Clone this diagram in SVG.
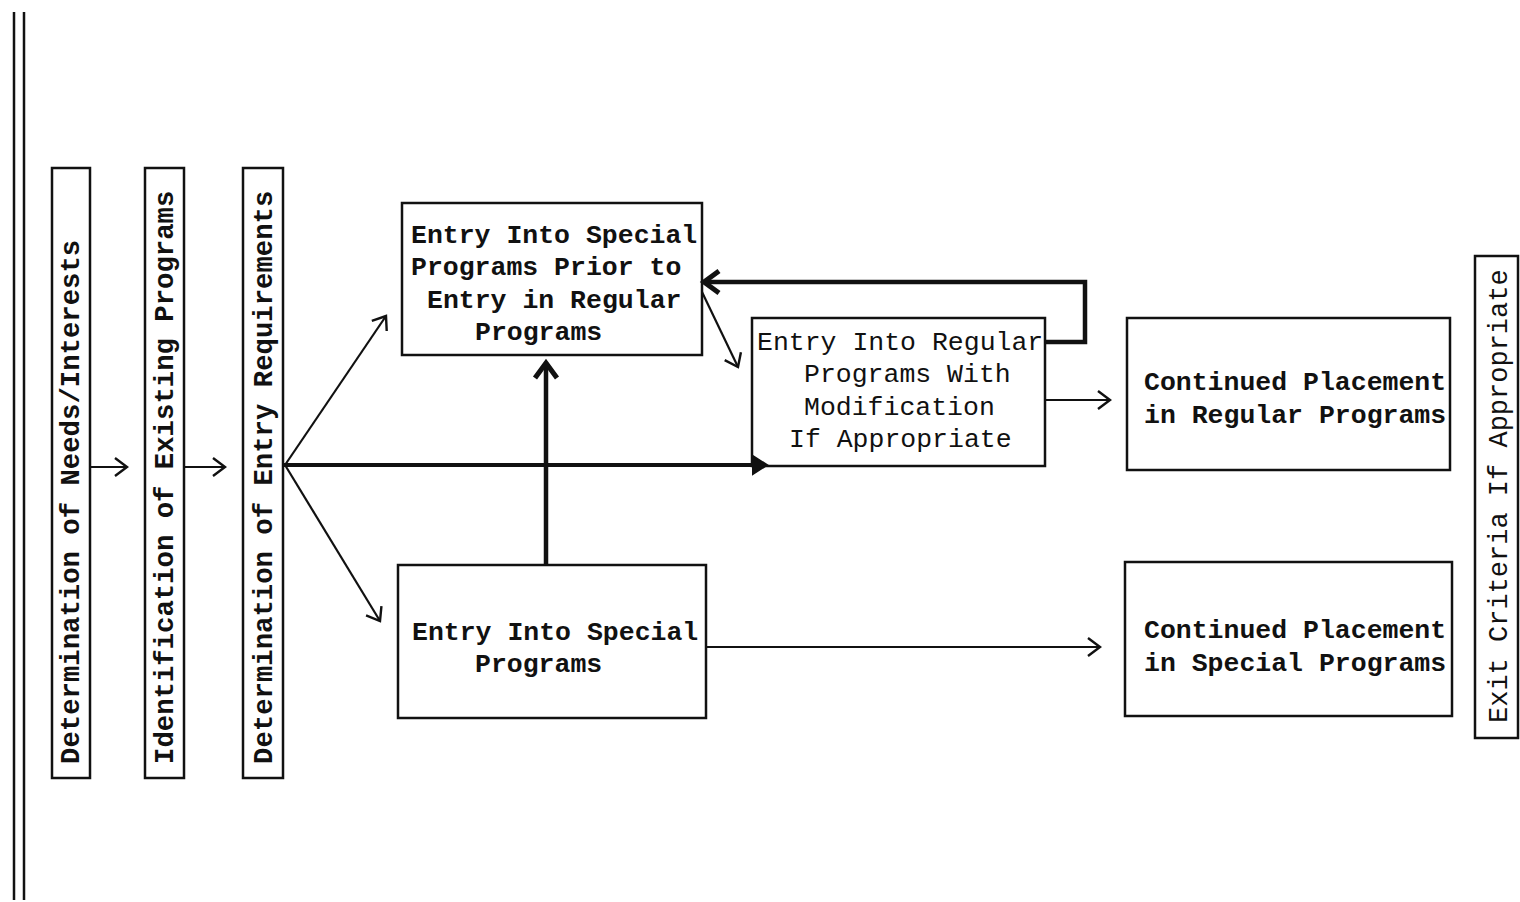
<svg xmlns="http://www.w3.org/2000/svg" width="1520" height="902" viewBox="0 0 1520 902">
<style>
.box{fill:#fff;stroke:#111;stroke-width:2.5}
.t{font-family:"Liberation Mono","DejaVu Sans Mono",monospace;font-size:26.5px;fill:#111;font-weight:bold}
.tr{font-family:"Liberation Mono","DejaVu Sans Mono",monospace;font-size:26.5px;fill:#111}
.v{font-family:"Liberation Mono","DejaVu Sans Mono",monospace;font-size:27.3px;fill:#111;font-weight:bold}
.vr{font-family:"Liberation Mono","DejaVu Sans Mono",monospace;font-size:27px;fill:#111}
.thin{fill:none;stroke:#111;stroke-width:2.2}
.thick{fill:none;stroke:#111;stroke-width:4.5}
.rule{stroke:#111;stroke-width:2.5}
</style>
<defs>
<marker id="open" markerUnits="userSpaceOnUse" viewBox="-16 -12 20 24" markerWidth="20" markerHeight="24" refX="0" refY="0" orient="auto">
<path d="M -12 -9 L 0 0 L -12 9" fill="none" stroke="#111" stroke-width="2.4" stroke-linejoin="miter"/>
</marker>
<marker id="heavy" markerUnits="userSpaceOnUse" viewBox="-20 -16 26 32" markerWidth="26" markerHeight="32" refX="0" refY="0" orient="auto">
<path d="M -15 -11 L 0 0 L -15 11" fill="none" stroke="#111" stroke-width="5" stroke-linejoin="miter"/>
</marker>
<marker id="solid" markerUnits="userSpaceOnUse" viewBox="-16 -12 20 24" markerWidth="20" markerHeight="24" refX="0" refY="0" orient="auto">
<path d="M -12 -9 L 2 0 L -12 9 Z" fill="#111" stroke="#111" stroke-width="2"/>
</marker>
</defs>
<rect width="1520" height="902" fill="#fff"/>
<line class="rule" x1="14" y1="12" x2="14" y2="900"/>
<line class="rule" x1="24" y1="12" x2="24" y2="900"/>

<g id="needs">
<rect class="box" x="52" y="168" width="38" height="610"/>
<text class="v" transform="translate(79,764) rotate(-90)">Determination of Needs/Interests</text>
</g>
<g id="existing">
<rect class="box" x="145" y="168" width="39" height="610"/>
<text class="v" transform="translate(173,764) rotate(-90)">Identification of Existing Programs</text>
</g>
<g id="entryreq">
<rect class="box" x="243" y="168" width="40" height="610"/>
<text class="v" transform="translate(272,764) rotate(-90)">Determination of Entry Requirements</text>
</g>
<g id="special-prior">
<rect class="box" x="402" y="203" width="300" height="152"/>
<text class="t" x="411" y="243">Entry Into Special</text>
<text class="t" x="411" y="275">Programs Prior to</text>
<text class="t" x="427" y="308">Entry in Regular</text>
<text class="t" x="475" y="340">Programs</text>
</g>
<g id="regular-mod">
<rect class="box" x="752" y="318" width="293" height="148"/>
<text class="tr" x="757" y="350">Entry Into Regular</text>
<text class="tr" x="804" y="382">Programs With</text>
<text class="tr" x="804" y="415">Modification</text>
<text class="tr" x="789" y="447">If Appropriate</text>
</g>
<g id="special">
<rect class="box" x="398" y="565" width="308" height="153"/>
<text class="t" x="412" y="640">Entry Into Special</text>
<text class="t" x="475" y="672">Programs</text>
</g>
<g id="cont-regular">
<rect class="box" x="1127" y="318" width="323" height="152"/>
<text class="t" x="1144" y="390">Continued Placement</text>
<text class="t" x="1144" y="423">in Regular Programs</text>
</g>
<g id="cont-special">
<rect class="box" x="1125" y="562" width="327" height="154"/>
<text class="t" x="1144" y="638">Continued Placement</text>
<text class="t" x="1144" y="671">in Special Programs</text>
</g>
<g id="exit">
<rect class="box" x="1475" y="256" width="43" height="482"/>
<text class="vr" transform="translate(1507,723) rotate(-90)">Exit Criteria If Appropriate</text>
</g>

<g id="connectors">
<line class="thin" x1="90" y1="467" x2="127" y2="467" marker-end="url(#open)"/>
<line class="thin" x1="184" y1="467" x2="225" y2="467" marker-end="url(#open)"/>
<line class="thin" x1="285" y1="465" x2="386" y2="316" marker-end="url(#open)"/>
<line class="thin" x1="285" y1="465" x2="380" y2="621" marker-end="url(#open)"/>
<line x1="284" y1="465" x2="765" y2="465" stroke="#111" stroke-width="4" marker-end="url(#solid)"/>
<line class="thick" x1="546" y1="565" x2="546" y2="363" marker-end="url(#heavy)"/>
<polyline class="thick" points="1045,342 1085,342 1085,282 704,282" marker-end="url(#heavy)"/>
<line class="thin" x1="702" y1="292" x2="738" y2="367" marker-end="url(#open)"/>
<line class="thin" x1="1045" y1="400" x2="1110" y2="400" marker-end="url(#open)"/>
<line class="thin" x1="706" y1="647" x2="1100" y2="647" marker-end="url(#open)"/>
</g>
</svg>
